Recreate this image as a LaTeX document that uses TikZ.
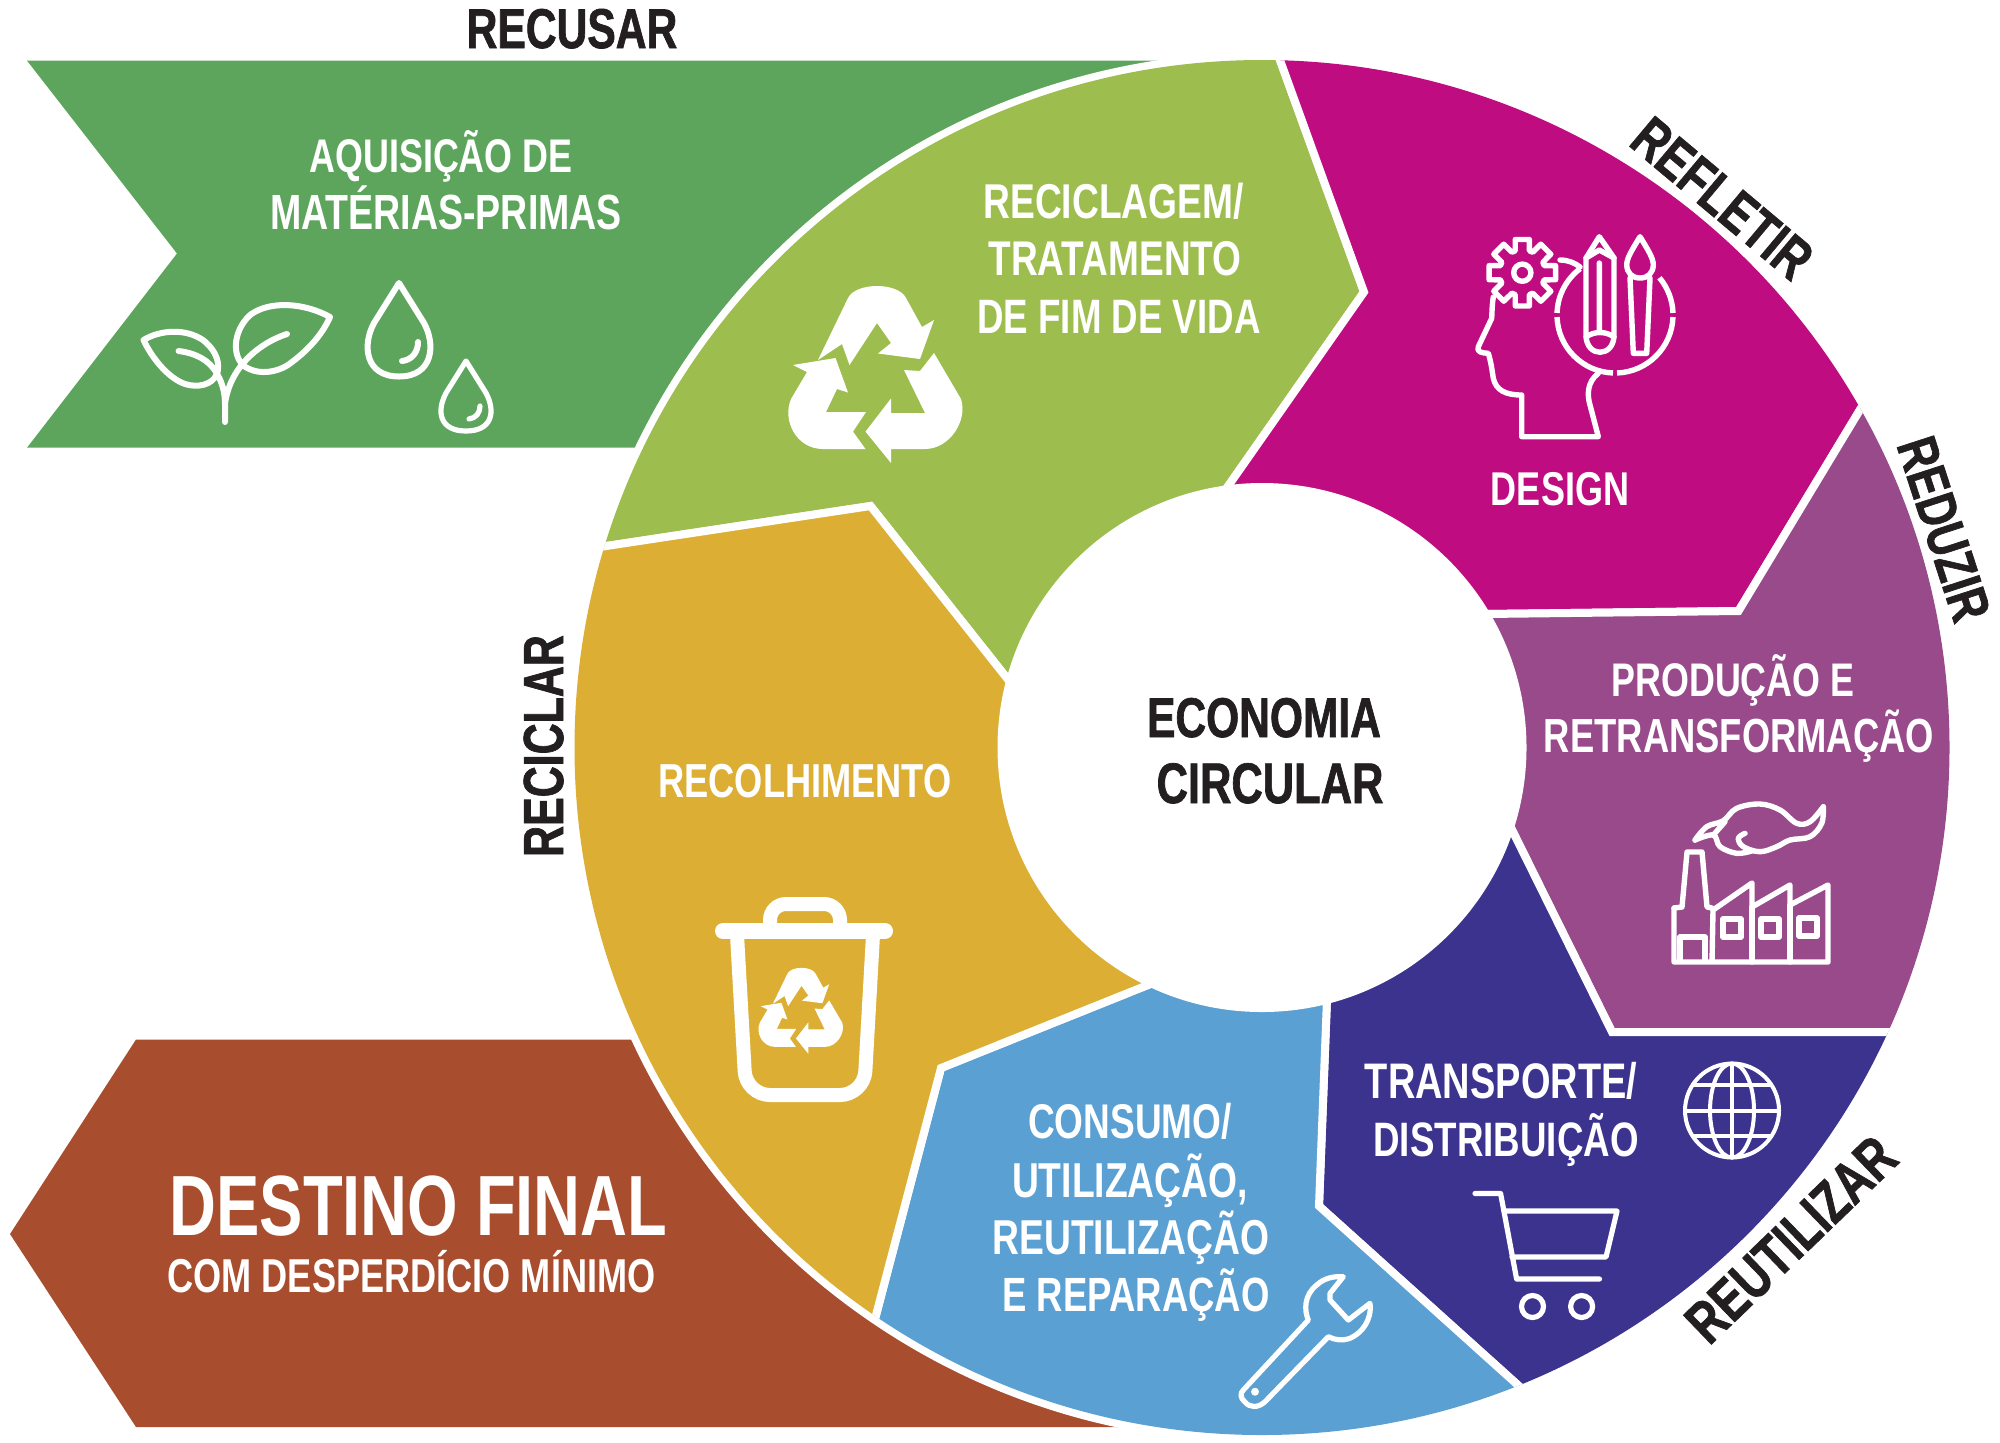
\documentclass[tikz,border=0pt]{standalone}
\usepackage{fontspec}
\setmainfont[FakeStretch=0.76]{Liberation Sans}
\newfontfamily\heavyf[FakeStretch=0.76,FakeBold=1.2]{Liberation Sans Bold}
\definecolor{cgreen}{HTML}{5DA55D}
\definecolor{colive}{HTML}{9DBE4E}
\definecolor{cmag}{HTML}{BF0C80}
\definecolor{cpur}{HTML}{984A8B}
\definecolor{cind}{HTML}{3C338E}
\definecolor{cblu}{HTML}{5AA0D3}
\definecolor{cyel}{HTML}{DCAE34}
\definecolor{cbro}{HTML}{A84D2E}
\definecolor{cink}{HTML}{231F20}
\newcommand{\fitw}[2]{\resizebox{\dimexpr #1pt*1008/1000\relax}{!}{\bfseries #2}}
\newcommand{\fith}[2]{\resizebox{\dimexpr #1pt*1008/1000\relax}{!}{\heavyf #2}}
\newcommand{\recyc}{%
  \fill[white] (818,360)--(842,344)--(849.5,365)--(877,323)--(891,343)--(878,353.5)--(920,359)--(934,320)--(922,327)--(906,298)
     .. controls (898,282) and (856,282) .. (848,298)--cycle;
  \fill[white] (891,398.5)--(891,413)--(925,413)--(904,370)--(920,371)--(934,353)--(961,399)
     .. controls (968,420) and (950,449) .. (925,449)--(891,449)--(891,463)--(865.5,431.6)--cycle;
  \fill[white] (793,365)--(835.5,358)--(848,392.5)--(837,389)--(826,412)--(866,412)--(853,431.6)--(865.5,449)--(823,449)
     .. controls (796,449) and (782,420) .. (791,399)--(807,372)--cycle;
}
\tikzset{
  x=0.5pt,y=-0.5pt,
  seg/.style={draw=white,line width=4pt,line join=miter},
  lab/.style={text=white,inner sep=0pt,anchor=base},
  blab/.style={text=cink,inner sep=0pt,anchor=base},
  ico/.style={draw=white,line width=3pt,line join=round,line cap=round},
  thinico/.style={draw=white,line width=2.7pt,line join=round,line cap=round},
}
\begin{document}
\begin{tikzpicture}
\useasboundingbox (0,0) rectangle (2000,1442);
% banners
\fill[cgreen] (27,60.6)--(177,253.5)--(27,447.7)--(1000,447.7)--(1200,60.6)--cycle;
\fill[cbro] (136,1039.5)--(10,1234)--(136,1427)--(1130,1427)--(1000,1039.5)--cycle;
\coordinate (C) at (1262,747.5);
\fill[white] (C) circle [radius=347.5pt];
% segments
\coordinate (O0) at (1268,27);\coordinate (O2) at (1364,292);\coordinate (O3) at (1196,532);
\coordinate (M0) at (1890,360);\coordinate (M2) at (1738.5,611);\coordinate (M3) at (1400,615);
\coordinate (P0) at (1950,1032);\coordinate (P2) at (1612,1032);\coordinate (P3) at (1470,745);
\coordinate (I0) at (1570,1432);\coordinate (I2) at (1319,1206);\coordinate (I3) at (1330,920);
\coordinate (Y0) at (860,1376);\coordinate (Y2) at (941,1068);\coordinate (Y3) at (1250,944);
\coordinate (G0) at (560,553);\coordinate (G2) at (870.5,506);\coordinate (G3) at (1090,783);
\begin{scope}
\clip (C) circle [radius=343.75pt];
\draw[seg,fill=colive] (G0)--(300,20)--(O0)--(O2)--(O3)--(C)--(G3)--(G2)--cycle;
\draw[seg,fill=cmag] (O0)--(2000,27)--(M0)--(M2)--(M3)--(C)--(O3)--(O2)--cycle;
\draw[seg,fill=cpur] (M0)--(2050,360)--(2050,1032)--(P0)--(P2)--(P3)--(C)--(M3)--(M2)--cycle;
\draw[seg,fill=cind] (P0)--(1950,1500)--(I0)--(I2)--(I3)--(C)--(P3)--(P2)--cycle;
\draw[seg,fill=cblu] (I0)--(1570,1500)--(860,1500)--(Y0)--(Y2)--(Y3)--(C)--(I3)--(I2)--cycle;
\draw[seg,fill=cyel] (Y0)--(300,1400)--(G0)--(G2)--(G3)--(C)--(Y3)--(Y2)--cycle;
\end{scope}
\fill[white] (C) circle [radius=132.25pt];
% labels
\node[blab] (recusar) at (572,48) {\fith{104.5}{RECUSAR}};
\node[lab] (aq1) at (441,172) {\fitw{130.5}{AQUISIÇÃO DE}};
\node[lab] (aq2) at (446,229) {\fitw{174.5}{MATÉRIAS-PRIMAS}};
\node[lab] (rc1) at (1113.5,218) {\fitw{129}{RECICLAGEM/}};
\node[lab] (rc2) at (1115,275) {\fitw{125.5}{TRATAMENTO}};
\node[lab] (rc3) at (1119,333) {\fitw{140.5}{DE FIM DE VIDA}};
\node[lab] (design) at (1560,505) {\fitw{68.5}{DESIGN}};
\node[lab] (pr1) at (1733,696) {\fitw{120.5}{PRODUÇÃO E}};
\node[lab] (pr2) at (1739,752) {\fitw{193.5}{RETRANSFORMAÇÃO}};
\node[lab] (tr1) at (1501,1098) {\fitw{135}{TRANSPORTE/}};
\node[lab] (tr2) at (1506,1156) {\fitw{131.5}{DISTRIBUIÇÃO}};
\node[lab] (co1) at (1130,1138) {\fitw{101}{CONSUMO/}};
\node[lab] (co2) at (1130,1197) {\fitw{117}{UTILIZAÇÃO,}};
\node[lab] (co3) at (1131,1254) {\fitw{137.5}{REUTILIZAÇÃO}};
\node[lab] (co4) at (1136,1311) {\fitw{132.5}{E REPARAÇÃO}};
\node[lab] (recol) at (805,797) {\fitw{145.5}{RECOLHIMENTO}};
\node[blab] (ec1) at (1264,737) {\fith{116}{ECONOMIA}};
\node[blab] (ec2) at (1270,803) {\fith{112.5}{CIRCULAR}};
\node[lab] (df1) at (418.5,1235) {\fitw{247}{DESTINO FINAL}};
\node[lab] (df2) at (411.5,1292) {\fitw{242}{COM DESPERDÍCIO MÍNIMO}};
\node[blab,rotate=90] (reciclar) at (563,746) {\fith{110}{RECICLAR}};
\node[blab,rotate=-40] (refletir) at (1709.5,213.5) {\fith{106.5}{REFLETIR}};
\node[blab,rotate=-72] (reduzir) at (1925.5,535) {\fith{94}{REDUZIR}};
\node[blab,rotate=44] (reutilizar) at (1805,1254) {\fith{132}{REUTILIZAR}};
% recycle icons
\recyc
\begin{scope}[shift={(801.5,1011)},scale=.485,shift={(-877,-375)}]
\recyc
\end{scope}
% trash bin
\draw[draw=white,line width=8pt,line cap=round] (723,931)--(885,931);
\draw[draw=white,line width=7pt,rounded corners=8pt,line cap=butt] (770,928)--(770,904)--(840,904)--(840,928);
\draw[draw=white,line width=7pt,rounded corners=12pt] (737,935)--(746,1095)--(864,1095)--(873,935);
% sprout
\draw[ico] (225,422)--(225,404) .. controls (225,385) and (217,374) .. (217,374) .. controls (210,360) and (195,353) .. (178.6,351);
\draw[ico] (143.5,340) .. controls (160,330) and (185,328) .. (203,340) .. controls (218,352) and (220,365) .. (217,374) .. controls (212,385) and (198,388) .. (185,384) .. controls (168,378) and (152,358) .. (143.5,340)--cycle;
\draw[ico] (330,317) .. controls (305,303) and (270,300) .. (250,315) .. controls (232,332) and (232,358) .. (245.5,367) .. controls (260,376) and (280,372) .. (292,362) .. controls (308,350) and (322,335) .. (330,317)--cycle;
\draw[ico] (287,334) .. controls (262,342) and (230,365) .. (225,404);
% drops
\draw[ico] (399,283)--(374,323) .. controls (362,345) and (365,376.5) .. (399,376.5) .. controls (433,376.5) and (436,345) .. (424,323)--cycle;
\draw[ico] (418,342) .. controls (418,352) and (412,360) .. (402,361);
\draw[ico,line width=2.6pt] (466,361)--(446,393) .. controls (436,412) and (440,431) .. (466,431) .. controls (492,431) and (496,412) .. (486,393)--cycle;
\draw[ico,line width=2.6pt] (480,406) .. controls (480,413) and (476,418) .. (469,419);
% design icon: gear
\draw[thinico,shift={(1522.3,272.7)}] (-90-18:11.5pt) \foreach \a in {-90,-45,0,45,90,135,180,225} { -- (\a-18:11.5pt) -- (\a-12:17pt) -- (\a+12:17pt) -- (\a+18:11.5pt) } -- cycle;
\draw[thinico] (1522.3,272.7) circle [radius=4.3pt];
% head
\draw[thinico] (1493.3,297) .. controls (1492,305) and (1492,312) .. (1491.7,318.3)--(1478.3,346.7) .. controls (1476,352) and (1482,353) .. (1488.3,353.3) .. controls (1491,362) and (1492,370) .. (1493.3,378.3) .. controls (1496,390) and (1505,395) .. (1521.7,395)--(1521.7,436.7)--(1598.3,436.7)--(1590,405) .. controls (1587,395) and (1587,382) .. (1598.3,373.3);
\draw[thinico] (1560,260) .. controls (1568,260) and (1575,263) .. (1580,267);
% circle arcs
\draw[thinico,line cap=butt] ([shift={(1615,315)}]127:29pt) arc [start angle=127,end angle=178,radius=29pt];
\draw[thinico,line cap=butt] ([shift={(1615,315)}]182:29pt) arc [start angle=182,end angle=268,radius=29pt];
\draw[thinico,line cap=butt] ([shift={(1615,315)}]272:29pt) arc [start angle=272,end angle=358,radius=29pt];
\draw[thinico,line cap=butt] ([shift={(1615,315)}]2:29pt) arc [start angle=2,end angle=40,radius=29pt];
% pencil
\draw[thinico] (1599.3,236.7)--(1614,258)--(1614,335) .. controls (1614,358) and (1586,358) .. (1586,335)--(1586,258)--cycle;
\draw[thinico] (1599.3,263)--(1599.3,332) (1586,258)--(1599.3,250)--(1614,258) (1586,337) .. controls (1594,331) and (1606,331) .. (1614,337);
% brush
\draw[thinico] (1640,236.7) .. controls (1632,250) and (1626.7,258) .. (1626.7,265) .. controls (1627,273) and (1632,278) .. (1640,278) .. controls (1648,278) and (1653,273) .. (1653.3,265) .. controls (1653.3,258) and (1648,250) .. (1640,236.7)--cycle;
\draw[thinico] (1630,278)--(1633.3,353.3)--(1646.7,353.3)--(1650,278);
% factory
\draw[thinico] (1674,908)--(1674,962)--(1828,962)--(1828,885)--(1790,905)--(1790,885)--(1752,907)--(1752,883)--(1713,910)--(1712,962);
\draw[thinico] (1752,907)--(1752,962) (1790,905)--(1790,962);
\draw[thinico] (1674,908)--(1682,907)--(1687,852)--(1702,852)--(1707,907)--(1712,908);
\draw[thinico] (1680,960)--(1680,937)--(1705,937)--(1705,960);
\draw[thinico] (1723,919) rectangle (1741,937) (1761,919) rectangle (1779,937) (1799,918) rectangle (1817,936);
\draw[thinico] plot[smooth,tension=0.6] coordinates {(1695,840)(1706.7,826.7)(1723.3,820.7)(1736.7,808.3)(1760,804)(1780,810)(1796.7,823.3)(1810,821.7)(1823.3,806.7)};
\draw[thinico] plot[smooth,tension=0.6] coordinates {(1823.3,806.7)(1821.7,823.3)(1810,836.7)(1790,840)(1776.7,846.7)(1760,851.7)(1743.3,846.7)(1738.3,838.3)(1745,833.3)};
\draw[thinico] plot[smooth,tension=0.6] coordinates {(1695,840)(1713.3,835)(1720,846.7)(1736.7,853.3)(1751.7,851)};
\draw[thinico] (1725,821.7)--(1713.3,835);
% globe
\draw[thinico,line width=2pt] (1732,1110.5) circle [radius=23.5pt];
\draw[thinico,line width=2pt] (1732,1110.5) ellipse [x radius=11pt,y radius=23.5pt];
\draw[thinico,line width=2pt] (1732,1063.5)--(1732,1157.5) (1685,1110.5)--(1779,1110.5) (1693,1085)--(1771,1085) (1693,1136)--(1771,1136);
% cart
\draw[ico,line width=2.6pt] (1475,1193.5)--(1500.6,1193.5)--(1516.6,1279)--(1599.5,1279);
\draw[ico,line width=2.6pt] (1504,1211)--(1617,1211)--(1606,1257)--(1512,1257);
\draw[ico,line width=2.6pt] (1532.5,1306.5) circle [radius=5.5pt] (1581.6,1306.5) circle [radius=5.5pt];
% wrench
\draw[ico,line width=2.6pt] (1243.3,1390)--(1308.3,1320) .. controls (1304,1310) and (1304,1295) .. (1316.7,1285) .. controls (1324,1278) and (1334,1276) .. (1343.3,1276.7)--(1330,1293.3)--(1330,1300)--(1348.3,1320)--(1370,1303.3) .. controls (1372,1320) and (1362,1333) .. (1350,1338.3) .. controls (1342,1341) and (1335,1340) .. (1328.3,1336.7)--(1265,1401.7) .. controls (1258,1408) and (1250,1408) .. (1245,1402) .. controls (1240,1398) and (1240,1393) .. (1243.3,1390)--cycle;
\fill[white] (1255,1391.7) circle [radius=2pt];
\end{tikzpicture}
\end{document}
